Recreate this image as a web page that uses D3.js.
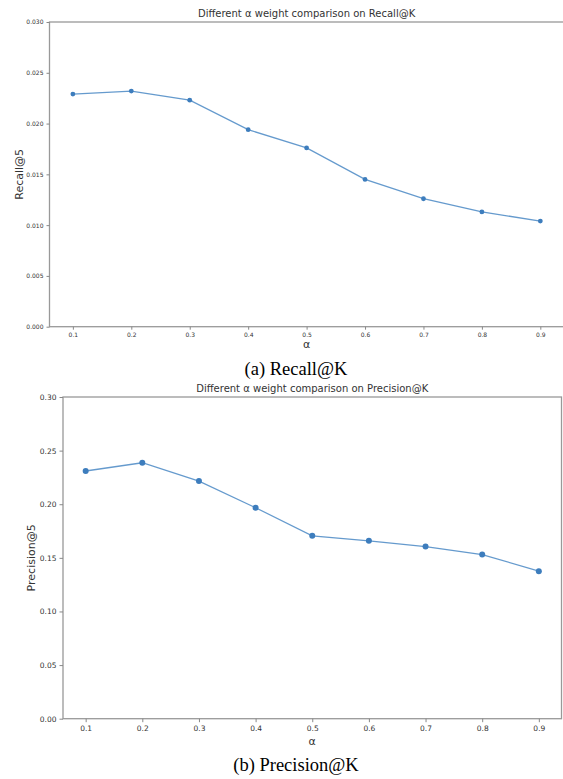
<!DOCTYPE html>
<meta charset="utf-8">
<style>
body { margin: 0; background: #fff; }
text { font-family: "DejaVu Sans", sans-serif; fill: #333; }
.caption { font-family: "Liberation Serif", serif; fill: #000; }
.tick line { stroke: #888; }
.domain { display: none; }
</style>
<svg width="563" height="779"></svg>
<script src="https://d3js.org/d3.v7.min.js"></script>
<script>

// alpha values on the x axis
var alphas = [0.1, 0.2, 0.3, 0.4, 0.5, 0.6, 0.7, 0.8, 0.9];
// Recall@5 for each alpha
var recall = [0.0229, 0.0232, 0.0223, 0.0194, 0.0176, 0.0145, 0.0126, 0.0113, 0.0104];
// Precision@5 for each alpha
var precision = [0.231, 0.2387, 0.2216, 0.1967, 0.1705, 0.1659, 0.1605, 0.1531, 0.1376];
// tick labels
var recallTicks = [0, 0.005, 0.010, 0.015, 0.020, 0.025, 0.030];
var precisionTicks = [0, 0.05, 0.10, 0.15, 0.20, 0.25, 0.30];

var svg = d3.select("svg");

function drawPanel(opt) {
  var g = svg.append("g");

  var x = d3.scaleLinear().domain([0.06, 0.94]).range([opt.left, opt.right]);
  var y = d3.scaleLinear().domain([0, opt.ymax]).range([opt.bottom, opt.top]);

  // frame
  g.append("rect")
    .attr("x", opt.left).attr("y", opt.top)
    .attr("width", opt.right - opt.left).attr("height", opt.bottom - opt.top)
    .attr("fill", "none").attr("stroke", "#999").attr("stroke-width", 1.3);

  var xa = g.append("g")
    .attr("transform", "translate(0," + opt.bottom + ")")
    .style("color", "#444")
    .call(d3.axisBottom(x).tickValues(alphas).tickSize(opt.tick).tickPadding(3)
      .tickFormat(d3.format(".1f")));
  xa.selectAll("text").style("font-size", opt.tickFont + "px");

  var ya = g.append("g")
    .attr("transform", "translate(" + opt.left + ",0)")
    .style("color", "#444")
    .call(d3.axisLeft(y).tickValues(opt.yticks).tickSize(opt.tick).tickPadding(3)
      .tickFormat(d3.format(opt.yfmt)));
  ya.selectAll("text").style("font-size", opt.tickFont + "px");

  var line = d3.line()
    .x(function(d, i) { return x(alphas[i]); })
    .y(function(d) { return y(d); });

  g.append("path")
    .datum(opt.values)
    .attr("d", line)
    .attr("fill", "none")
    .attr("stroke", "#4a88c4")
    .attr("stroke-opacity", 0.85)
    .attr("stroke-width", 1.3);

  g.selectAll("circle")
    .data(opt.values)
    .enter().append("circle")
    .attr("cx", function(d, i) { return x(alphas[i]); })
    .attr("cy", function(d) { return y(d); })
    .attr("r", opt.r)
    .attr("fill", "#3d7dbd");

  g.append("text")
    .attr("x", (opt.left + opt.right) / 2)
    .attr("y", opt.top - 5)
    .attr("text-anchor", "middle")
    .style("font-size", "10px")
    .text(opt.title);

  g.append("text")
    .attr("transform", "translate(" + opt.ylabelX + "," + (opt.top + opt.bottom) / 2 + ") rotate(-90)")
    .attr("text-anchor", "middle")
    .style("font-size", "11px")
    .text(opt.ylabel);

  g.append("text")
    .attr("x", (opt.left + opt.right) / 2)
    .attr("y", opt.bottom + opt.xlabelDy)
    .attr("text-anchor", "middle")
    .style("font-size", "11px")
    .text("α");

  g.append("text")
    .attr("class", "caption")
    .attr("x", 296)
    .attr("y", opt.captionY)
    .attr("text-anchor", "middle")
    .style("font-size", "18.5px")
    .text(opt.caption);
}

drawPanel({
  left: 49.5, right: 563.7, top: 22, bottom: 326.7,
  ymax: 0.030, yticks: recallTicks, yfmt: ".3f",
  values: recall, tick: 3, tickFont: 6, r: 2.4,
  title: "Different α weight comparison on Recall@K",
  ylabel: "Recall@5", ylabelX: 23, xlabelDy: 21,
  caption: "(a) Recall@K", captionY: 375
});

drawPanel({
  left: 63, right: 561.5, top: 397, bottom: 718.7,
  ymax: 0.30, yticks: precisionTicks, yfmt: ".2f",
  values: precision, tick: 3.5, tickFont: 7.5, r: 3,
  title: "Different α weight comparison on Precision@K",
  ylabel: "Precision@5", ylabelX: 35, xlabelDy: 26,
  caption: "(b) Precision@K", captionY: 771
});

</script>
